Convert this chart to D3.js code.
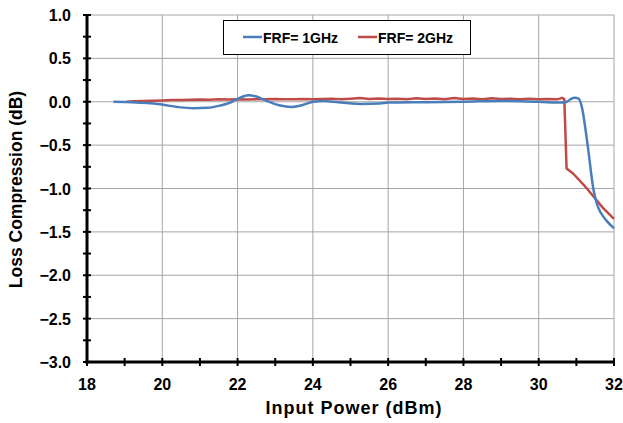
<!DOCTYPE html>
<html><head><meta charset="utf-8">
<script src="https://cdn.jsdelivr.net/npm/d3@7"></script>
<style>body{margin:0;background:#fff}svg{display:block}text{font-family:"Liberation Sans",Arial,sans-serif;font-weight:bold}</style>
</head><body>
<svg id="c" width="623" height="423"></svg>
<script>
const seriesNames = ["FRF= 1GHz", "FRF= 2GHz"];
const xTicks = [18,20,22,24,26,28,30,32];
const yTicks = [1.0,0.5,0.0,-0.5,-1.0,-1.5,-2.0,-2.5,-3.0];
const blueX = [18.7,19.2,19.6,19.94,20.4,20.83,21.2,21.53,21.8,21.98,22.29,22.5,22.77,23.1,23.44,23.75,24.01,24.3,24.54,25.25,25.78,26,27,28,29,30,30.6,30.75,30.85,30.96,31.06,31.14,31.3,31.45,31.54,31.65,31.8,32];
const blueY = [0,-0.005,-0.015,-0.03,-0.06,-0.075,-0.07,-0.045,-0.01,0.03,0.075,0.06,0.01,-0.04,-0.06,-0.035,0,0.01,0,-0.025,-0.02,-0.01,-0.005,0,0.01,0,-0.01,0,0.03,0.045,0.035,-0.05,-0.5,-1.0,-1.17,-1.28,-1.37,-1.46];
const redX = [19.05,19.25,19.5,19.75,20,20.25,20.5,20.75,21,21.25,21.5,21.75,22,22.25,22.5,22.75,23,23.25,23.5,23.75,24,24.25,24.5,24.75,25,25.25,25.5,25.75,26,26.25,26.5,26.75,27,27.25,27.5,27.75,28,28.25,28.5,28.75,29,29.25,29.5,29.75,30,30.25,30.5,30.62,30.68,30.74,30.92,31.2,31.45,31.7,32];
const redY = [0,0.005,0.01,0.012,0.015,0.02,0.02,0.022,0.025,0.022,0.028,0.025,0.03,0.027,0.03,0.028,0.032,0.03,0.03,0.033,0.03,0.032,0.035,0.03,0.036,0.042,0.033,0.038,0.032,0.036,0.03,0.04,0.033,0.038,0.03,0.042,0.032,0.037,0.03,0.04,0.032,0.036,0.03,0.035,0.03,0.032,0.028,0.045,0.03,-0.77,-0.83,-0.96,-1.09,-1.22,-1.35];

const svg = d3.select("#c");
const L = 87, R = 614, T = 15, B = 362;
const x = d3.scaleLinear().domain([18,32]).range([L,R]);
const y = d3.scaleLinear().domain([-3,1]).range([B,T]);

// grid
const g = svg.append("g");
xTicks.filter(v=>v>18).forEach(v=>{
  g.append("line").attr("x1",x(v)).attr("x2",x(v)).attr("y1",T).attr("y2",B).attr("stroke","#a6a6a6").attr("stroke-width",1);
});
yTicks.filter(v=>v>-3).forEach(v=>{
  g.append("line").attr("x1",L).attr("x2",R).attr("y1",y(v)).attr("y2",y(v)).attr("stroke","#a6a6a6").attr("stroke-width",1);
});

// series
const mk = (xs,ys)=>xs.map((v,i)=>[v,ys[i]]);
const lineB = d3.line().x(d=>x(d[0])).y(d=>y(d[1])).curve(d3.curveMonotoneX);
const lineR = d3.line().x(d=>x(d[0])).y(d=>y(d[1]));
svg.append("path").attr("d",lineR(mk(redX,redY))).attr("fill","none").attr("stroke","#be4b48").attr("stroke-width",2.5).attr("stroke-linejoin","round");
svg.append("path").attr("d",lineB(mk(blueX,blueY))).attr("fill","none").attr("stroke","#4a7ebb").attr("stroke-width",2.5).attr("stroke-linejoin","round");

// axes
const ax = svg.append("g");
d3.range(-3,1.001,0.25).forEach(v=>{
  ax.append("line").attr("x1",L-4).attr("x2",L+4).attr("y1",y(v)).attr("y2",y(v)).attr("stroke","#000").attr("stroke-width",2);
});
d3.range(18,32.001,1).forEach(v=>{
  ax.append("line").attr("x1",x(v)).attr("x2",x(v)).attr("y1",B-4).attr("y2",B+4).attr("stroke","#000").attr("stroke-width",2);
});
ax.append("line").attr("x1",L).attr("x2",L).attr("y1",T).attr("y2",B+1.5).attr("stroke","#000").attr("stroke-width",3);
ax.append("line").attr("x1",L-1.5).attr("x2",R).attr("y1",B).attr("y2",B).attr("stroke","#000").attr("stroke-width",3);

yTicks.forEach(v=>{
  svg.append("text").attr("x",L-16).attr("y",y(v)+6).attr("text-anchor","end").attr("font-size",16).text(d3.format(".1f")(v));
});
xTicks.forEach(v=>{
  svg.append("text").attr("x",x(v)).attr("y",B+28).attr("text-anchor","middle").attr("font-size",16).text(v);
});
svg.append("text").attr("x",354).attr("y",414).attr("text-anchor","middle").attr("font-size",18).attr("letter-spacing",1).text("Input Power (dBm)");
svg.append("text").attr("transform",`translate(22,${(80+299)/2}) rotate(-90)`).attr("text-anchor","middle").attr("font-size",17.5).text("Loss Compression (dB)");

// legend
const lg = svg.append("g");
lg.append("rect").attr("x",223.5).attr("y",20.5).attr("width",247).attr("height",34).attr("fill","#fff").attr("stroke","#000").attr("stroke-width",1);
const cols = ["#4a7ebb","#be4b48"];
const lx = [243,358];
seriesNames.forEach((n,i)=>{
  lg.append("line").attr("x1",lx[i]).attr("x2",lx[i]+19).attr("y1",37).attr("y2",37).attr("stroke",cols[i]).attr("stroke-width",2.5);
  lg.append("text").attr("x",lx[i]+20).attr("y",42.5).attr("font-size",14).text(n);
});
</script>
</body></html>
